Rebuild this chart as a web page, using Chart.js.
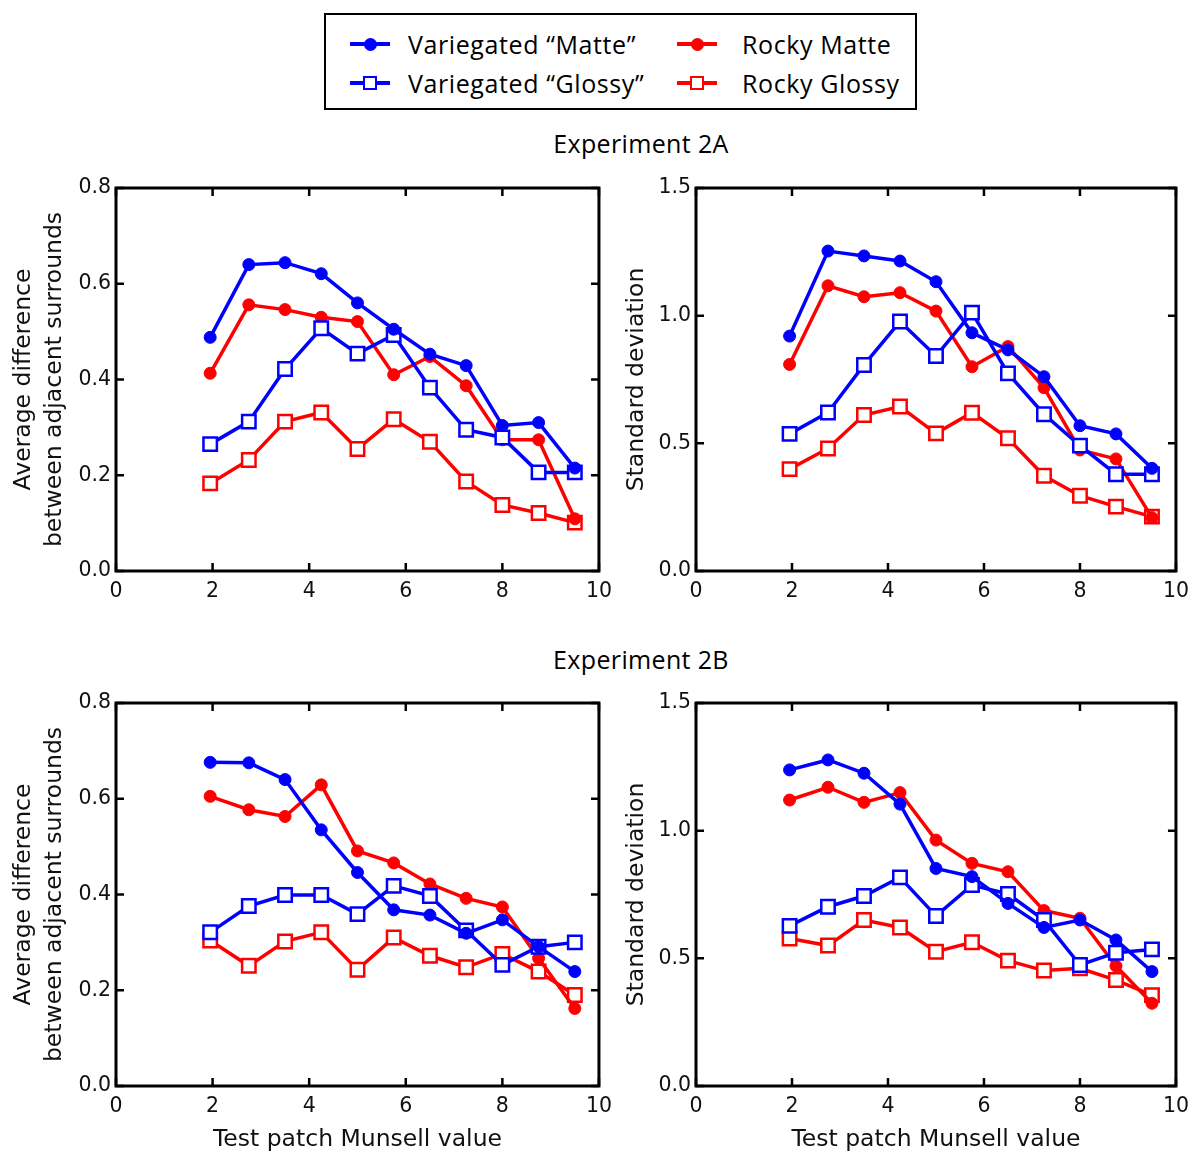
<!DOCTYPE html>
<html>
<head>
<meta charset="utf-8">
<title>Experiment 2A / 2B</title>
<script src="https://cdn.jsdelivr.net/npm/chart.js@4.4.1/dist/chart.umd.min.js"></script>
<style>
  html, body { margin: 0; padding: 0; background: #fff; overflow: hidden; }
  body { width: 1197px; height: 1155px; position: relative; }
  canvas.panel { position: absolute; }
  .heading {
    position: absolute; font-family: "Open Sans"; font-size: 25px; line-height: 30px;
    letter-spacing: 0.35px; color: #000; white-space: nowrap; transform: translateX(-50%);
  }
  #legend {
    position: absolute; left: 324px; top: 13px; width: 589px; height: 93px;
    border: 2px solid #000; background: #fff;
  }
  .sym { position: absolute; width: 40px; height: 30px; }
  .sym .ln { position: absolute; left: 0; width: 40px; top: 13px; height: 4px; }
  .sym .mk { position: absolute; box-sizing: border-box; }
  .txt {
    position: absolute; font-family: "Open Sans"; font-size: 25px; line-height: 30px;
    letter-spacing: 0.6px; color: #000; white-space: nowrap;
  }
</style>
</head>
<body>

<div id="legend"></div>
<div class="heading" style="left:641px; top:128px;">Experiment 2A</div>
<div class="heading" style="left:641px; top:644px;">Experiment 2B</div>

<canvas id="diff2A" class="panel" width="620" height="451" style="left:0px; top:160px;"></canvas>
<canvas id="sd2A" class="panel" width="597" height="451" style="left:600px; top:160px;"></canvas>
<canvas id="diff2B" class="panel" width="620" height="474" style="left:0px; top:680px;"></canvas>
<canvas id="sd2B" class="panel" width="597" height="474" style="left:600px; top:680px;"></canvas>

<script>
// test patch values along the x axis
const munsell = [1.95, 2.75, 3.5, 4.25, 5, 5.75, 6.5, 7.25, 8, 8.75, 9.5];

const xTicks = [0, 2, 4, 6, 8, 10];
const diffTicks = [0, 0.2, 0.4, 0.6, 0.8];
const sdTicks = [0, 0.5, 1.0, 1.5];

const seriesNames = ['Variegated \u201cMatte\u201d', 'Variegated \u201cGlossy\u201d', 'Rocky Matte', 'Rocky Glossy'];

// Experiment 2A - average difference between adjacent surrounds
const diff2A_varMatte   = [0.488, 0.640, 0.644, 0.621, 0.560, 0.505, 0.453, 0.429, 0.304, 0.310, 0.215];
const diff2A_varGlossy  = [0.265, 0.312, 0.422, 0.507, 0.454, 0.493, 0.383, 0.295, 0.279, 0.206, 0.206];
const diff2A_rockMatte  = [0.413, 0.556, 0.546, 0.530, 0.521, 0.410, 0.448, 0.387, 0.274, 0.274, 0.109];
const diff2A_rockGlossy = [0.183, 0.232, 0.312, 0.331, 0.255, 0.317, 0.270, 0.187, 0.138, 0.121, 0.101];

// Experiment 2A - standard deviation
const sd2A_varMatte   = [0.920, 1.253, 1.234, 1.214, 1.133, 0.933, 0.866, 0.761, 0.569, 0.537, 0.402];
const sd2A_varGlossy  = [0.537, 0.621, 0.807, 0.977, 0.842, 1.012, 0.774, 0.614, 0.491, 0.379, 0.379];
const sd2A_rockMatte  = [0.809, 1.117, 1.074, 1.090, 1.018, 0.800, 0.879, 0.718, 0.474, 0.439, 0.209];
const sd2A_rockGlossy = [0.399, 0.480, 0.611, 0.644, 0.539, 0.620, 0.520, 0.373, 0.295, 0.252, 0.213];

// Experiment 2B - average difference between adjacent surrounds
const diff2B_varMatte   = [0.676, 0.675, 0.640, 0.535, 0.446, 0.368, 0.357, 0.319, 0.347, 0.291, 0.239];
const diff2B_varGlossy  = [0.321, 0.376, 0.399, 0.399, 0.359, 0.418, 0.397, 0.325, 0.253, 0.291, 0.300];
const diff2B_rockMatte  = [0.605, 0.577, 0.563, 0.629, 0.491, 0.466, 0.422, 0.392, 0.374, 0.267, 0.162];
const diff2B_rockGlossy = [0.304, 0.251, 0.302, 0.321, 0.243, 0.310, 0.272, 0.248, 0.276, 0.239, 0.190];

// Experiment 2B - standard deviation
const sd2B_varMatte   = [1.238, 1.277, 1.225, 1.104, 0.852, 0.820, 0.715, 0.621, 0.650, 0.572, 0.448];
const sd2B_varGlossy  = [0.627, 0.702, 0.744, 0.817, 0.666, 0.787, 0.752, 0.650, 0.474, 0.522, 0.535];
const sd2B_rockMatte  = [1.120, 1.170, 1.111, 1.149, 0.963, 0.872, 0.839, 0.687, 0.657, 0.470, 0.324];
const sd2B_rockGlossy = [0.578, 0.550, 0.650, 0.621, 0.526, 0.563, 0.491, 0.452, 0.461, 0.415, 0.356];

const seriesColors = ['#0000ff', '#0000ff', '#ff0000', '#ff0000'];
const seriesFilled = [true, false, true, false];

const tickFont = { family: 'DejaVu Sans', size: 20.5 };
const titleFont = { family: 'DejaVu Sans', size: 23.5 };

// box around the plot area with inward ticks on all four sides
const frameTicks = {
    id: 'frameTicks',
    beforeDatasetsDraw(chart) {
        const ctx = chart.ctx;
        const a = chart.chartArea;
        const xs = chart.scales.x;
        const ys = chart.scales.y;
        const len = 8;
        ctx.save();
        ctx.strokeStyle = '#000';
        ctx.lineWidth = 2.5;
        ctx.beginPath();
        xs.ticks.forEach(t => {
            const px = xs.getPixelForValue(t.value);
            ctx.moveTo(px, a.bottom); ctx.lineTo(px, a.bottom - len);
            ctx.moveTo(px, a.top); ctx.lineTo(px, a.top + len);
        });
        ys.ticks.forEach(t => {
            const py = ys.getPixelForValue(t.value);
            ctx.moveTo(a.left, py); ctx.lineTo(a.left + len, py);
            ctx.moveTo(a.right, py); ctx.lineTo(a.right - len, py);
        });
        ctx.stroke();
        ctx.lineWidth = 3;
        ctx.lineJoin = 'miter';
        ctx.strokeRect(a.left, a.top, a.right - a.left, a.bottom - a.top);
        ctx.restore();
    }
};

function buildDatasets(values) {
    return values.map((vals, i) => ({
        label: seriesNames[i],
        data: munsell.map((x, j) => ({ x: x, y: vals[j] })),
        borderColor: seriesColors[i],
        backgroundColor: seriesFilled[i] ? seriesColors[i] : '#ffffff',
        borderWidth: 3.5,
        tension: 0,
        fill: false,
        clip: false,
        pointStyle: seriesFilled[i] ? 'circle' : 'rect',
        pointRadius: seriesFilled[i] ? 6 : 9.5,
        pointBorderWidth: seriesFilled[i] ? 1 : 2.5,
        pointBackgroundColor: seriesFilled[i] ? seriesColors[i] : '#ffffff',
        pointBorderColor: seriesColors[i]
    }));
}

function makePanel(id, values, yTicks, yTitle, opts) {
    return new Chart(document.getElementById(id), {
        type: 'line',
        data: { datasets: buildDatasets(values) },
        options: {
            responsive: false,
            animation: false,
            events: [],
            layout: { padding: { top: opts.padTop, right: opts.padRight, left: 0, bottom: 0 } },
            plugins: {
                legend: { display: false },
                tooltip: { enabled: false }
            },
            scales: {
                x: {
                    type: 'linear',
                    min: 0,
                    max: 10,
                    afterBuildTicks: s => { s.ticks = xTicks.map(v => ({ value: v })); },
                    afterFit: s => { s.height = opts.xTitle ? 68 : 40; },
                    grid: { display: false, drawTicks: false },
                    border: { display: false },
                    ticks: {
                        font: tickFont, color: '#111', padding: 8,
                        maxRotation: 0, autoSkip: false,
                        callback: v => String(v)
                    },
                    title: {
                        display: opts.xTitle,
                        text: 'Test patch Munsell value',
                        font: titleFont, color: '#111',
                        padding: { top: 0, bottom: 0 }
                    }
                },
                y: {
                    type: 'linear',
                    min: yTicks[0],
                    max: yTicks[yTicks.length - 1],
                    afterBuildTicks: s => { s.ticks = yTicks.map(v => ({ value: v })); },
                    afterFit: s => { s.width = opts.yWidth; },
                    grid: { display: false, drawTicks: false },
                    border: { display: false },
                    ticks: {
                        font: tickFont, color: '#111', padding: 5,
                        autoSkip: false,
                        callback: v => v.toFixed(1)
                    },
                    title: {
                        display: true,
                        text: yTitle,
                        font: Object.assign({ lineHeight: 1.3 }, titleFont),
                        color: '#111',
                        padding: { top: opts.yTitlePad, bottom: 0 }
                    }
                }
            }
        },
        plugins: [frameTicks]
    });
}

const diffTitle = ['Average difference', 'between adjacent surrounds'];
const sdTitle = 'Standard deviation';

const leftOpts = { padTop: 28, padRight: 20, yWidth: 116, yTitlePad: 9, xTitle: false };
const rightOpts = { padTop: 28, padRight: 17, yWidth: 96, yTitlePad: 22, xTitle: false };

const chart2A = makePanel('diff2A',
    [diff2A_varMatte, diff2A_varGlossy, diff2A_rockMatte, diff2A_rockGlossy],
    diffTicks, diffTitle, leftOpts);
makePanel('sd2A',
    [sd2A_varMatte, sd2A_varGlossy, sd2A_rockMatte, sd2A_rockGlossy],
    sdTicks, sdTitle, rightOpts);
makePanel('diff2B',
    [diff2B_varMatte, diff2B_varGlossy, diff2B_rockMatte, diff2B_rockGlossy],
    diffTicks, diffTitle, Object.assign({}, leftOpts, { padTop: 23, xTitle: true }));
makePanel('sd2B',
    [sd2B_varMatte, sd2B_varGlossy, sd2B_rockMatte, sd2B_rockGlossy],
    sdTicks, sdTitle, Object.assign({}, rightOpts, { padTop: 23, xTitle: true }));

// shared legend, built from the datasets of the first panel
function buildLegend(chart) {
    const box = document.getElementById('legend');
    const symLeft = [24, 351];
    const txtLeft = [82, 416];
    const rowTop = [14, 53];
    chart.data.datasets.forEach((ds, i) => {
        const col = Math.floor(i / 2);
        const row = i % 2;
        const sym = document.createElement('div');
        sym.className = 'sym';
        sym.style.left = symLeft[col] + 'px';
        sym.style.top = rowTop[row] + 'px';
        const ln = document.createElement('div');
        ln.className = 'ln';
        ln.style.background = ds.borderColor;
        const mk = document.createElement('div');
        mk.className = 'mk';
        if (ds.pointStyle === 'circle') {
            Object.assign(mk.style, { width: '13px', height: '13px', left: '13.5px', top: '8.5px',
                borderRadius: '50%', background: ds.pointBackgroundColor });
        } else {
            Object.assign(mk.style, { width: '14px', height: '14px', left: '13px', top: '8px',
                border: '2.5px solid ' + ds.pointBorderColor, background: ds.pointBackgroundColor });
        }
        sym.appendChild(ln);
        sym.appendChild(mk);
        const txt = document.createElement('div');
        txt.className = 'txt';
        txt.style.left = txtLeft[col] + 'px';
        txt.style.top = rowTop[row] + 'px';
        txt.textContent = ds.label;
        box.appendChild(sym);
        box.appendChild(txt);
    });
}
buildLegend(chart2A);
</script>
</body>
</html>
